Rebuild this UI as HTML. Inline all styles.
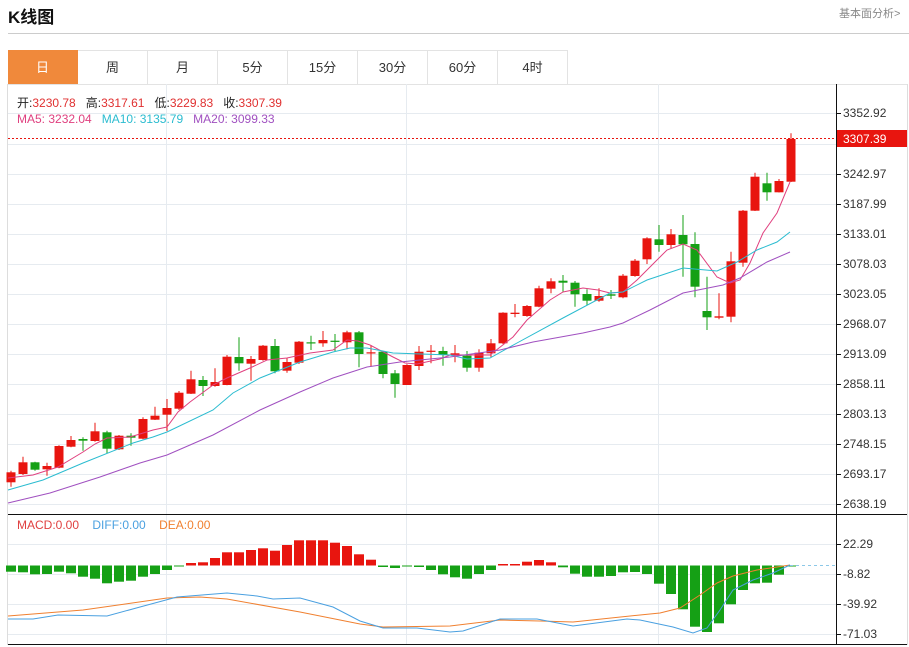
<!DOCTYPE html>
<html><head><meta charset="utf-8"><style>
body{margin:0;width:909px;height:647px;background:#fff;font-family:"Liberation Sans","Noto Sans CJK SC",sans-serif;overflow:hidden;position:relative}
.t{position:absolute;white-space:nowrap}
.tab{position:absolute;top:50px;height:34px;width:70px;border-right:1px solid #e3e3e3;border-top:1px solid #e3e3e3;box-sizing:border-box;text-align:center;line-height:34px;font-size:13px;color:#333}
</style></head><body>
<div class="t" style="left:8px;top:3px;font-size:17px;font-weight:bold;color:#111">K线图</div>
<div class="t" style="left:839px;top:5px;font-size:11px;color:#888">基本面分析&gt;</div>
<div style="position:absolute;left:8px;top:33px;width:901px;height:1px;background:#ccc"></div>
<div class="tab" style="left:8px;background:#f0893b;color:#fff;border-color:#f0893b">日</div>
<div class="tab" style="left:78px">周</div>
<div class="tab" style="left:148px">月</div>
<div class="tab" style="left:218px">5分</div>
<div class="tab" style="left:288px">15分</div>
<div class="tab" style="left:358px">30分</div>
<div class="tab" style="left:428px">60分</div>
<div class="tab" style="left:498px">4时</div>
<svg id="s" width="909" height="647" style="position:absolute;left:0;top:0"></svg>
<div class="t" style="left:17px;top:94px;font-size:12px;color:#222">开:<span style="color:#e03030">3230.78</span>&nbsp;&nbsp; 高:<span style="color:#e03030">3317.61</span>&nbsp;&nbsp; 低:<span style="color:#e03030">3229.83</span>&nbsp;&nbsp; 收:<span style="color:#e03030">3307.39</span></div>
<div class="t" style="left:17px;top:112px;font-size:12px"><span style="color:#e0407f">MA5: 3232.04</span>&nbsp;&nbsp; <span style="color:#2bbcd0">MA10: 3135.79</span>&nbsp;&nbsp; <span style="color:#a050c0">MA20: 3099.33</span></div>
<div class="t" style="left:17px;top:518px;font-size:12px"><span style="color:#e04040">MACD:0.00</span>&nbsp;&nbsp;&nbsp; <span style="color:#4aa0e0">DIFF:0.00</span>&nbsp;&nbsp;&nbsp; <span style="color:#f08030">DEA:0.00</span></div>
<script>
var s='';
function L(x1,y1,x2,y2,c,w,extra){s+='<line x1="'+x1+'" y1="'+y1+'" x2="'+x2+'" y2="'+y2+'" stroke="'+c+'" stroke-width="'+(w||1)+'" '+(extra||'')+'/>';}
// frame
L(7.5,84,7.5,645,'#ddd');L(907.5,84,907.5,645,'#ddd');
L(8,84.5,907,84.5,'#e3e3e3');
var gy=[113,144,174,204,234,264,294,324,354,384,414,444,474,504];
gy.forEach(function(y){L(8,y+.5,836,y+.5,'#e6ebf0');});
[544,574,604,634].forEach(function(y){L(8,y+.5,836,y+.5,'#e6ebf0');});
[166.5,406.5,658.5].forEach(function(x){L(x,84,x,644,'#e6ebf0');});
L(8,514.5,907,514.5,'#111');L(8,644.5,907,644.5,'#111');L(836.5,84,836.5,645,'#111');
var labs=[[113,'3352.92'],[174,'3242.97'],[204,'3187.99'],[234,'3133.01'],[264,'3078.03'],[294,'3023.05'],[324,'2968.07'],[354,'2913.09'],[384,'2858.11'],[414,'2803.13'],[444,'2748.15'],[474,'2693.17'],[504,'2638.19'],[544,'22.29'],[574,'-8.82'],[604,'-39.92'],[634,'-71.03']];
labs.forEach(function(a){L(836,a[0]+.5,841,a[0]+.5,'#111');s+='<text x="843" y="'+(a[0]+4)+'" font-size="12" fill="#333" font-family="Liberation Sans">'+a[1]+'</text>';});
// candles: [type, bodyTop, bodyBot, hi, lo]
var C=[['r',472.3,482.3,470.7,486.7],['r',462.3,474,456.7,475],['g',462.3,469.7,461.7,470.7],['r',466,469.3,462.7,475.7],['r',446,467.7,445.3,468.3],['r',440,446.7,436,447.3],['g',439,440.7,437.3,450.7],['r',431.3,441,422.7,441.7],['g',432.3,448.7,430.7,453.3],['r',435.7,449.3,435,450],['g',435.7,437.7,433.3,445.7],['r',419,438.7,417.3,439.3],['r',415.7,419.7,406.7,420],['r',408,414.7,399,431],['r',392.7,408.7,391,410],['r',379.3,393.7,370.7,394],['g',380,386,376,396],['r',382,386,368.3,386.7],['r',356.7,385,355,385.3],['g',357,363.3,337.3,370.7],['r',359,363.7,356,380.7],['r',345.7,360,345,360.7],['g',346,371.3,339,373.3],['r',362,370.7,358.3,372.7],['r',341.7,362.7,341,364],['g',342.3,343.3,335.7,350],['r',340,343.3,331,346.7],['g',340.7,341.3,334,351.7],['r',332.3,342.3,330.7,349.3],['g',332.3,354,331,367.3],['r',352.3,353.3,345,366.7],['g',351.7,374,351,378.3],['g',373.3,384,370,397.7],['r',365,385,364.3,385],['r',351.7,366,346,370],['r',350.7,351.7,345,363.3],['g',351,355,346.7,365.7],
['r',353.3,355.3,345,362.3],['g',355.7,367.7,351,371.7],['r',352.7,367.7,349.3,371.7],['r',343.3,353.3,339,357.3],['r',312.7,343.3,312.3,344],['r',312.7,314,304,317.3],['r',306,316,305,316.7],['r',288.3,306.7,285.7,307.3],['r',281.3,288.7,278.3,293.3],['g',280.7,282.7,275,291.7],['g',282.7,294.3,281,306.7],['g',294,300.7,289.3,305],['r',296,300.7,288.3,301.7],['g',294.3,295.7,290,299],['r',275.7,297.3,274,298.3],['r',260.7,276,259,276.7],['r',238.3,259.3,237.3,264],['g',239.3,245,225,251.7],['r',234.3,245,229,248.3],['g',235,244.3,215,276.7],['g',244,286.7,232.3,297.3],['g',311,317.3,276.7,330],['r',316.3,317.7,293.3,319.3],['r',261.3,316.7,251.7,322.3],['r',210.7,262.7,210,266.7],['r',176.7,210.7,172.7,211],['g',183.3,192.3,172.7,200.7],['r',181,192.3,179,192.5],['r',139,181.7,133.3,182]];
var R='#e8150f',G='#15a015';
function X(i){return 11+12*i;}
C.forEach(function(c,i){var x=X(i),col=c[0]=='r'?R:G;L(x,c[3],x,c[4],col);var h=Math.max(1.2,c[2]-c[1]);s+='<rect x="'+(x-4.5)+'" y="'+c[1]+'" width="9" height="'+h+'" fill="'+col+'"/>';});
function P(pts,c){s+='<polyline fill="none" stroke="'+c+'" stroke-width="1" points="'+pts+'"/>';}
P('8,478 33,475 58,467 83,452 95,444 107,438 130,437 153,430 167,427 178,412 190,402 213,385 227,378 250,368 267,360 287,358 310,353 333,350 347,340 358,341 370,345 393,357 405,363 417,364 440,359 450,355 490,355 513,337 527,320 550,300 563,292 583,288 598,290 610,293 623,292 637,280 650,267 667,250 683,244 697,250 717,277 730,283 740,280 750,263 763,233 777,213 790,182','#e0407f');
P('8,490 43,480 83,463 133,443 153,437 167,432 213,410 233,393 260,378 300,362 333,352 350,348 367,348 393,353 450,355 467,359 490,358 517,343 563,318 610,293 623,292 647,280 683,268 717,271 737,262 757,250 777,242 790,232','#2bbcd0');
P('8,503 50,493 100,477 140,463 167,455 213,435 260,410 300,392 333,378 367,367 400,362 450,357 500,350 533,342 583,333 610,327 623,323 650,310 683,293 723,285 740,278 767,262 790,252','#a050c0');
// current price
L(8,138.5,836,138.5,'#e8150f',1,'stroke-dasharray="2,2"');
s+='<rect x="837" y="130" width="70" height="17" fill="#e8150f"/><text x="843" y="143" font-size="12" fill="#fff" font-family="Liberation Sans">3307.39</text>';
// macd bars
var Z=565.5;
var M=[571.7,572.3,574.3,574,571.7,573.3,576.7,578.7,583.3,581.7,580.7,576.7,574,570,566,563,562.3,558,552.3,552.3,550,548.3,550.7,545,540.3,540.3,540.3,542.7,546,554.3,559.7,567,568,566.5,567,570,574.3,577.3,578.7,574,570,564,564,561.7,560,562.3,567.3,573.7,576.7,576.7,576,572.3,572,574,583.7,594,609.3,626.7,632,623.3,604.3,590,583.3,582.7,574.7,566];
M.forEach(function(v,i){var x=X(i),col=v<Z?R:G;var y=Math.min(v,Z),h=Math.max(1,Math.abs(v-Z));s+='<rect x="'+(x-5)+'" y="'+y+'" width="10" height="'+h+'" fill="'+col+'"/>';});
L(790,565.5,836,565.5,'#8cc8e8',1,'stroke-dasharray="3,3"');
P('8,616 83,610 167,598 200,597 227,599 300,612 360,624 383,627 450,626 500,620 540,621 573,622 640,615 660,613 680,608 700,595 717,583 733,576 757,570 777,567 790,565','#f08030');
P('8,619 33,619 58,615 107,616 140,607 177,597 227,593 257,596 273,599 300,598 333,607 360,621 383,628 417,628 450,632 463,631 500,619 537,619 573,626 627,619 640,620 673,627 693,633 707,628 720,610 733,590 753,580 773,573 790,565','#4aa0e0');
document.getElementById('s').innerHTML=s;
</script>
</body></html>
